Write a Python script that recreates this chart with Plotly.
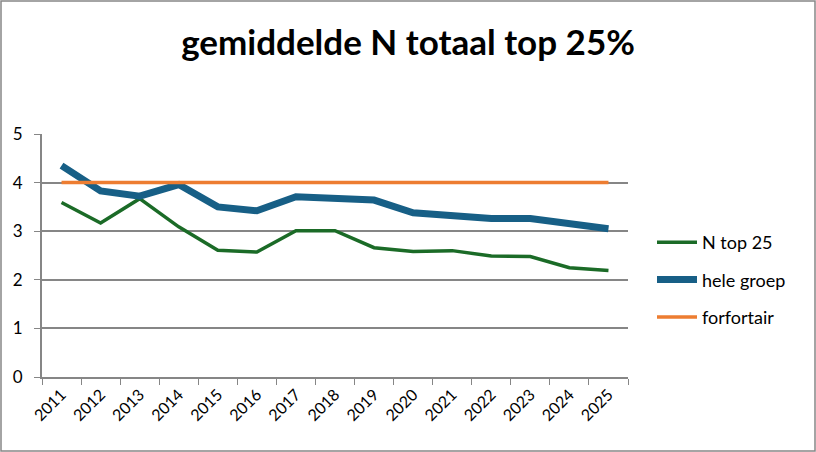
import plotly.graph_objects as go

years = [str(y) for y in range(2011, 2026)]
n_top25 = [3.59, 3.17, 3.67, 3.09, 2.61, 2.57, 3.01, 3.01, 2.66, 2.58, 2.60, 2.49, 2.48, 2.25, 2.19]
hele_groep = [4.35, 3.83, 3.72, 3.96, 3.50, 3.42, 3.71, 3.66, 3.64, 3.38, 3.33, 3.26, 3.26, 3.16, 3.05]
forfortair = [4.0] * 15

FONT = "Lato, Open Sans, sans-serif"
W, H = 816, 452
L, R, T, B = 42, 188, 134, 75
pw, ph = W - L - R, H - T - B

fig = go.Figure()
fig.add_trace(go.Scatter(x=years, y=n_top25, name="N top 25", mode="lines", legendgroup="a",
                         line=dict(color="#1b6b27", width=3.5)))
fig.add_trace(go.Scatter(x=years, y=hele_groep, name="hele groep", mode="lines", legendgroup="b",
                         line=dict(color="#175f86", width=7)))
fig.add_trace(go.Scatter(x=years, y=forfortair, name="forfortair", mode="lines", legendgroup="c",
                         line=dict(color="#ed7d31", width=3.5)))

fig.update_layout(
    width=W, height=H,
    margin=dict(l=L, r=R, t=T, b=B, autoexpand=False),
    paper_bgcolor="white", plot_bgcolor="white",
    font=dict(family=FONT, size=16, color="black"),
    title=dict(text="<b>gemiddelde N totaal top 25%</b>", x=0.5, xanchor="center",
               y=1 - 43 / H, yanchor="middle", font=dict(size=35, family=FONT)),
    legend=dict(x=(652 - L) / pw, y=(H - B - 224) / ph, xanchor="left", yanchor="top",
                font=dict(size=18), tracegroupgap=11, itemwidth=40,
                bgcolor="rgba(0,0,0,0)"),
    showlegend=True,
)
fig.update_xaxes(type="category", range=[-0.5, 14.5], tickangle=-45,
                 tickson="boundaries", ticks="outside", ticklen=6, automargin=False,
                 tickcolor="#868686", showline=True, linecolor="#868686",
                 linewidth=2, showgrid=False, tickfont=dict(size=16))
fig.update_yaxes(range=[0, 5], dtick=1, ticks="outside", ticklen=6, automargin=False,
                 ticklabelstandoff=8,
                 tickcolor="#868686", showline=True, linecolor="#868686",
                 linewidth=2, showgrid=True, gridcolor="#868686", gridwidth=2,
                 zeroline=False, tickfont=dict(size=17))
fig.add_shape(type="rect", xref="paper", yref="paper",
              x0=(1 - L) / pw, x1=(W - 1 - L) / pw,
              y0=-(B - 1) / ph, y1=1 + (T - 1) / ph,
              line=dict(color="#868686", width=1.5), layer="below")
fig.write_html("out.html", config={"displayModeBar": False},
               post_script="document.body.style.margin='0px';document.body.style.overflow='hidden';")
